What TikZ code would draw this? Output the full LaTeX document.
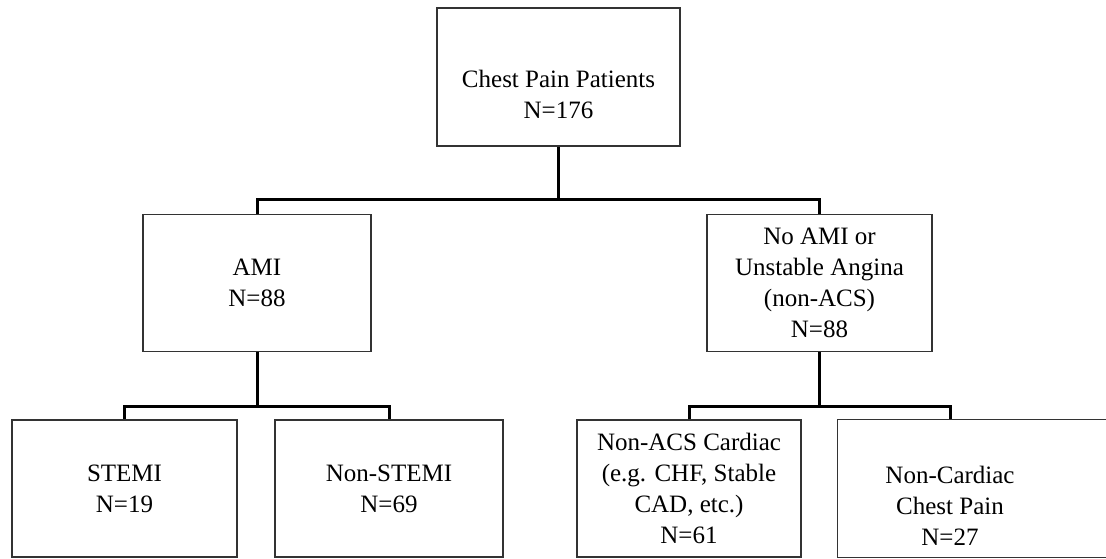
\documentclass[tikz,border=0pt]{standalone}
\usepackage{fontspec}
\setmainfont{Liberation Serif}
\begin{document}
\begin{tikzpicture}[x=1pt,y=-1pt,
  box/.style={draw=black!80, line width=1.1pt, rectangle, align=center, inner sep=0pt,
    minimum height=137pt, font=\fontsize{25}{31}\selectfont},
  conn/.style={draw=black, line width=3pt}]
\useasboundingbox (0,0) rectangle (1106,558);
\fill[white] (0,0) rectangle (1106,558);
\node[box, minimum width=243pt, minimum height=138pt] (top) at (558.5,77) {\strut\\Chest Pain Patients\\N=176};
\node[box, minimum width=228pt] (ami) at (257,283) {AMI\\N=88};
\node[box, minimum width=225pt] (noami) at (819.5,283) {No AMI or\\Unstable Angina\\(non-ACS)\\N=88};
\node[box, minimum width=225pt] (stemi) at (124.5,488.5) {STEMI\\N=19};
\node[box, minimum width=228pt] (nstemi) at (389,488.5) {Non-STEMI\\N=69};
\node[box, minimum width=224pt] (nacs) at (689,488.5) {Non-ACS Cardiac\\(e.g. CHF, Stable\\CAD, etc.)\\N=61};
\node[box, draw=none, minimum width=224pt] (ncard) at (950,488.5) {\strut\\Non-Cardiac\\Chest Pain\\N=27};
\draw[draw=black!80, line width=1.1pt] (ncard.north west) -- (ncard.north west -| 1120,0) (ncard.north west) -- (ncard.south west) -- (ncard.south west -| 1120,0);
\draw[conn] (top.south) -- ++(0,53) coordinate (j1);
\draw[conn] (ami.north) |- (j1) -| (noami.north);
\draw[conn] (ami.south) -- ++(0,54) coordinate (j2);
\draw[conn] (stemi.north) |- (j2) -| (nstemi.north);
\draw[conn] (noami.south) -- ++(0,54) coordinate (j3);
\draw[conn] (nacs.north) |- (j3) -| (ncard.north);
\end{tikzpicture}
\end{document}
